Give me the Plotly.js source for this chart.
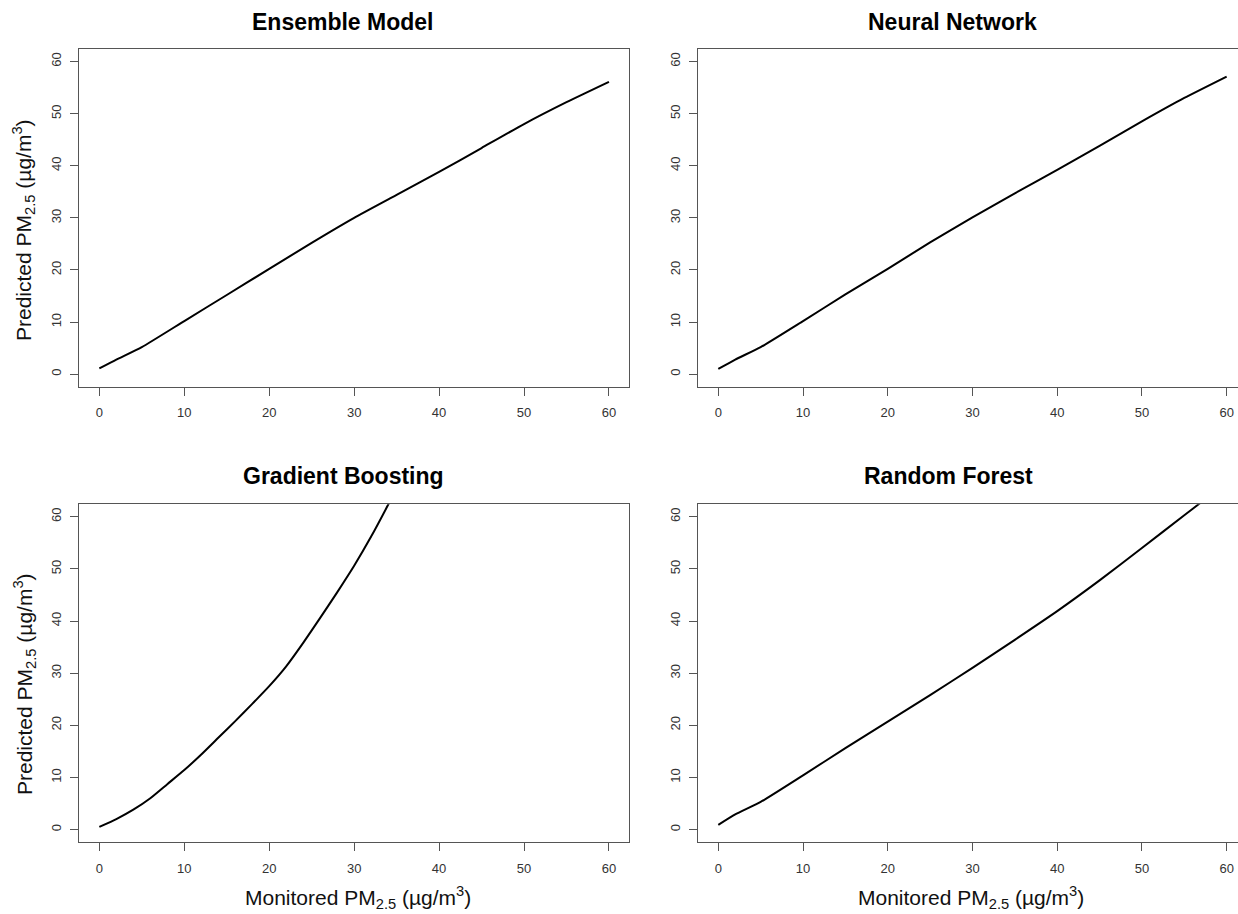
<!DOCTYPE html>
<html>
<head>
<meta charset="utf-8">
<script src="https://cdn.plot.ly/plotly-3.0.1.min.js"></script>
<style>html,body{margin:0;padding:0;background:#fff;}#chart{width:1238px;height:914px;}</style>
</head>
<body>
<div id="chart"></div>
<script>
// ---- data ----
const panelTitles = ["Ensemble Model", "Neural Network", "Gradient Boosting", "Random Forest"];
const tickVals = [0, 10, 20, 30, 40, 50, 60];
const tickText = ["0", "10", "20", "30", "40", "50", "60"];

const ensembleX = [0, 2, 5, 10, 15, 20, 25, 30, 35, 40, 45, 50, 55, 60];
const ensembleY = [1.1, 2.8, 5.2, 10.2, 15.2, 20.2, 25.2, 30.0, 34.4, 38.8, 43.4, 48.0, 52.2, 56.1];

const neuralX = [0, 2, 5, 10, 15, 20, 25, 30, 35, 40, 45, 50, 55, 60];
const neuralY = [1.0, 2.8, 5.2, 10.2, 15.3, 20.2, 25.3, 30.1, 34.7, 39.2, 43.8, 48.5, 53.0, 57.1];

const boostX = [0, 2, 4, 6, 8, 10, 12, 14, 16, 18, 20, 22, 24, 26, 28, 30, 32, 34, 35];
const boostY = [0.5, 2.0, 3.8, 6.0, 8.7, 11.4, 14.4, 17.6, 20.8, 24.1, 27.5, 31.3, 35.8, 40.6, 45.5, 50.6, 56.2, 62.3, 65.5];

const forestX = [0, 2, 5, 10, 15, 20, 25, 30, 35, 40, 45, 50, 55, 57, 58];
const forestY = [0.9, 2.9, 5.3, 10.4, 15.6, 20.7, 25.8, 31.0, 36.4, 41.9, 47.8, 54.0, 60.3, 62.8, 64.0];

const yTitle = "Predicted PM<sub>2.5</sub> (µg/m<sup>3</sup>)";
const xTitle = "Monitored PM<sub>2.5</sub> (µg/m<sup>3</sup>)";

// ---- layout helpers ----
const W = 1238, H = 914;
const px = v => v / W;
const py = v => 1 - v / H;

const traces = [
  {x: ensembleX, y: ensembleY, xaxis: "x", yaxis: "y"},
  {x: neuralX, y: neuralY, xaxis: "x2", yaxis: "y2"},
  {x: boostX, y: boostY, xaxis: "x3", yaxis: "y3"},
  {x: forestX, y: forestY, xaxis: "x4", yaxis: "y4"}
].map(t => Object.assign(t, {type: "scatter", mode: "lines", hoverinfo: "skip",
  line: {color: "#000", width: 2, shape: "spline", smoothing: 0.5}}));

const tickFont = {family: "Liberation Sans, Arial, sans-serif", size: 13, color: "#333"};
function xax(domain, range, anchor) {
  return {domain, range, anchor, tickvals: tickVals, ticktext: tickText, ticks: "outside", ticklen: 8,
    tickcolor: "#555", tickwidth: 1, showline: true, linecolor: "#555", linewidth: 1, mirror: true,
    showgrid: false, zeroline: false, tickfont: tickFont, ticklabelstandoff: 6, fixedrange: true};
}
function yax(domain, anchor, mirror) {
  return {domain, range: [-2.4, 62.4], anchor, tickvals: tickVals, ticktext: tickText, ticks: "outside", ticklen: 8,
    tickcolor: "#555", tickwidth: 1, showline: true, linecolor: "#555", linewidth: 1, mirror: mirror,
    showgrid: false, zeroline: false, tickfont: tickFont, tickangle: -90, ticklabelstandoff: 4, fixedrange: true};
}

const leftDom = [px(79.3), px(629)];
const rightDom = [px(698.3), 1];
const topDom = [py(386.7), py(49)];
const botDom = [py(842), py(504.3)];
const leftRange = [-2.36, 62.36];
const rightRange = [-2.36, 61.34];

const titleFont = {family: "Liberation Sans, Arial, sans-serif", size: 23, color: "#000", weight: "bold"};
const axTitleFont = {family: "Liberation Sans, Arial, sans-serif", size: 21, color: "#111"};

const annotations = [
  {text: "<b>" + panelTitles[0] + "</b>", x: px(342), y: py(22)},
  {text: "<b>" + panelTitles[1] + "</b>", x: px(952), y: py(22)},
  {text: "<b>" + panelTitles[2] + "</b>", x: px(343), y: py(476)},
  {text: "<b>" + panelTitles[3] + "</b>", x: px(948), y: py(476)}
].map(a => Object.assign(a, {xref: "paper", yref: "paper", showarrow: false, xanchor: "center", yanchor: "middle", font: titleFont}));

[
  {text: yTitle, x: px(24), y: py(230), textangle: -90},
  {text: yTitle, x: px(24), y: py(684), textangle: -90},
  {text: xTitle, x: px(358), y: py(897), textangle: 0},
  {text: xTitle, x: px(971), y: py(897), textangle: 0}
].forEach(a => annotations.push(Object.assign(a, {xref: "paper", yref: "paper", showarrow: false, xanchor: "center", yanchor: "middle", font: axTitleFont})));

const layout = {
  width: W, height: H,
  margin: {l: 0, r: 0, t: 0, b: 0, pad: 0},
  paper_bgcolor: "#fff", plot_bgcolor: "#fff",
  showlegend: false,
  xaxis: xax(leftDom, leftRange, "y"),
  yaxis: yax(topDom, "x", true),
  xaxis2: xax(rightDom, rightRange, "y2"),
  yaxis2: yax(topDom, "x2", false),
  xaxis3: xax(leftDom, leftRange, "y3"),
  yaxis3: yax(botDom, "x3", true),
  xaxis4: xax(rightDom, rightRange, "y4"),
  yaxis4: yax(botDom, "x4", false),
  annotations
};

Plotly.newPlot("chart", traces, layout, {displayModeBar: false, staticPlot: true});
</script>
</body>
</html>
